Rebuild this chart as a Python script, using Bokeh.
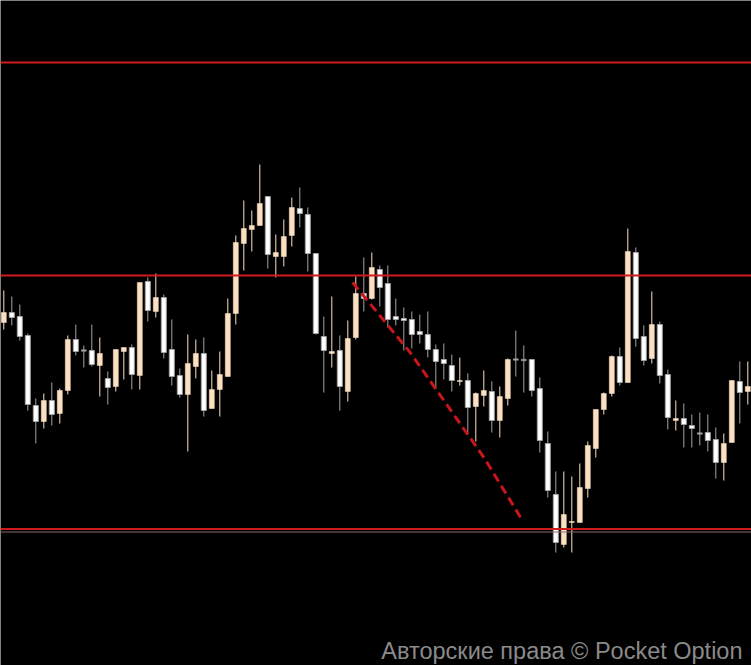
from bokeh.plotting import figure
from bokeh.models import Span, Label, Range1d
from bokeh.embed import file_html
from bokeh.resources import INLINE

# OHLC (arbitrary price units)
opens = [343, 353, 349, 330, 260, 244, 265, 252, 275, 326, 315, 315, 300, 287, 279, 314,
         318, 290, 384, 354, 368, 316, 290, 271, 299, 312, 257, 276, 289, 352, 422, 436,
         440, 469, 409, 409, 430, 457, 451, 412, 329, 312, 315, 274, 328, 372, 367, 396,
         382, 349, 347, 346, 334, 331, 316, 306, 300, 284, 285, 259, 270, 274, 245, 267,
         306, 305.5, 306, 277, 222, 171, 121, 143, 143, 177, 217, 256, 272, 309, 283, 413,
         329, 307, 341, 291, 245, 247, 240, 232, 233, 226, 203, 223, 284, 274]
closes = [353, 348, 329, 261, 244, 265, 251, 275, 326, 314, 315, 301, 312, 278, 316, 318,
          291, 383, 355, 368, 313, 289, 271, 302, 312, 255, 276, 291, 352, 423, 437, 440,
          462, 411, 413, 429, 458, 452, 412, 332, 315, 314, 279, 327, 372, 367, 398, 378,
          346, 346, 345, 331, 331, 316, 304, 302, 285, 285, 258, 272, 275, 245, 269, 306,
          306, 305.5, 275, 225, 175, 123, 151, 144, 178, 220, 256, 272, 309, 283, 414, 327,
          305, 341, 290, 248, 247, 241, 237, 232, 225, 203, 222, 285, 273, 279]
highs = [375, 369, 361, 332, 267, 272, 283, 277, 330, 341, 320, 341, 328, 294, 316, 318,
         321, 383, 388, 392, 371, 346, 297, 331, 326, 328, 295, 314, 367, 430, 465, 455,
         501, 469, 431, 446, 468, 478, 458, 412, 349, 369, 330, 345, 389, 408, 413, 400,
         400, 367, 358, 354, 351, 354, 321, 322, 311, 308, 292, 273, 295, 284, 279, 307,
         335, 320, 306, 288, 234, 194, 194, 189, 202, 224, 256, 273, 310, 318, 437, 418,
         340, 374, 344, 296, 265, 262, 251, 253, 251, 238, 232, 285, 304, 304]
lows = [336, 340, 325, 255, 222, 237, 240, 242, 271, 310, 298, 299, 269, 261, 274, 286,
        276, 276, 344, 348, 307, 280, 268, 214, 287, 249, 257, 249, 289, 341, 395, 414,
        440, 397, 388, 399, 419, 438, 394, 331, 273, 298, 255, 264, 326, 354, 366, 359,
        338, 340, 315, 317, 322, 308, 277, 286, 274, 280, 231, 224, 259, 233, 228, 260,
        289, 273, 269, 213, 168, 113, 118, 113, 143, 168, 208, 251, 269, 280, 283, 319,
        300, 302, 282, 236, 235, 218, 218, 220, 214, 187, 185, 223, 242, 261]

# horizontal levels and dashed trend line
levels = [603, 390, 136.5]
level_shadow = [133.5]
trend_idx = [43.6, 50.8, 60.1, 64.6]
trend_price = [383, 313, 207, 148]

copyright_text = "Авторские права © Pocket Option"

W, H = 751, 665
n = len(opens)
idx = list(range(n))

p = figure(width=W, height=H, output_backend="svg", toolbar_location=None,
           x_range=Range1d(-0.4125, -0.4125 + W / 8.0), y_range=Range1d(0, H),
           min_border=0, background_fill_color="black", border_fill_color="black")
p.axis.visible = False
p.grid.visible = False
p.outline_line_color = None

PEACH = "#fbe0c3"
GRAY = "#a3a3a3"

up = [i for i in idx if closes[i] > opens[i]]
dn = [i for i in idx if closes[i] < opens[i]]
dj = [i for i in idx if closes[i] == opens[i]]

for lv in levels:
    p.add_layout(Span(location=lv, dimension="width", line_color="#d11a1a", line_width=2))
for lv in level_shadow:
    p.add_layout(Span(location=lv, dimension="width", line_color="#8c6a6a", line_width=1))

p.segment(up, [highs[i] for i in up], up, [lows[i] for i in up],
          line_color=PEACH, line_width=1)
p.segment(dn, [highs[i] for i in dn], dn, [lows[i] for i in dn],
          line_color=GRAY, line_width=1)
p.segment(dj, [highs[i] for i in dj], dj, [lows[i] for i in dj],
          line_color=GRAY, line_width=1)

bw = 5 / 8.0
p.vbar(x=up, bottom=[opens[i] for i in up], top=[closes[i] for i in up], width=bw,
       fill_color=PEACH, line_color=PEACH, line_width=0.5)
p.vbar(x=dn, bottom=[closes[i] for i in dn], top=[opens[i] for i in dn], width=bw,
       fill_color="white", line_color=GRAY, line_width=1)
p.rect(x=dj, y=[opens[i] for i in dj], width=bw, height=1.5,
       fill_color=GRAY, line_color=GRAY, line_width=0.5)

p.line(trend_idx, trend_price, line_color="#c8161c", line_width=3, line_dash="9 5")

p.add_layout(Label(x=742, y=2, x_units="screen", y_units="screen", text=copyright_text,
                   text_align="right", text_baseline="bottom", text_color="#8a8a8a",
                   text_font="Liberation Sans", text_font_size="23.5px"))

html = file_html(p, INLINE)
html = html.replace("<body>", '<body style="margin:0;background:#000;overflow:hidden;">', 1)
open("out.html", "w").write(html)
